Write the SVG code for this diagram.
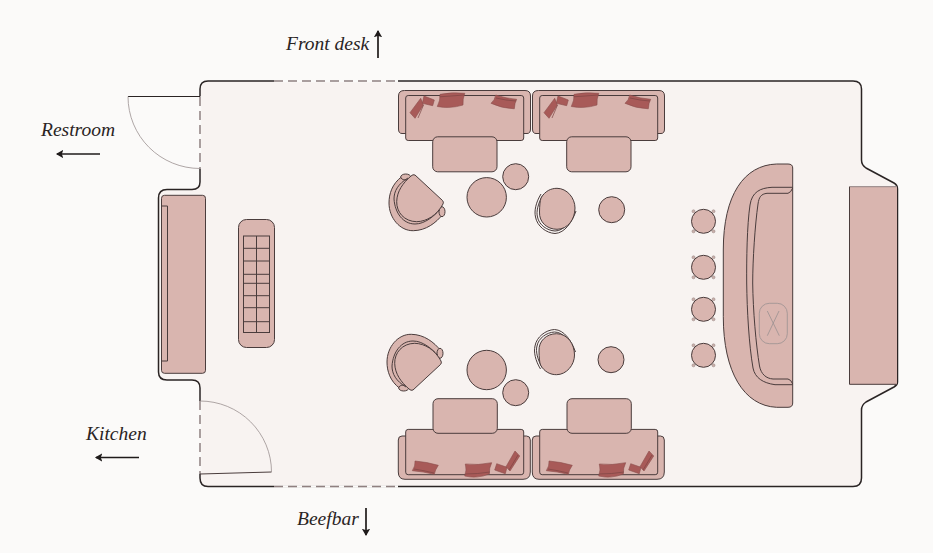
<svg xmlns="http://www.w3.org/2000/svg" width="933" height="553" viewBox="0 0 933 553">
<style>
.f{fill:#d9b5af;stroke:#4a3c3c;stroke-width:1}
.n{fill:none;stroke:#4a3c3c;stroke-width:1}
.c{fill:#a85a58;stroke:#8a4d4c;stroke-width:.6}
.w{fill:none;stroke:#2a2424;stroke-width:1.2}
.d{fill:none;stroke:#8f8080;stroke-width:1.5;stroke-dasharray:9 5}
.t{fill:none;stroke:#9a9090;stroke-width:.8}
.p{fill:#cbb0ab;stroke:#9a8a88;stroke-width:.6}
.g{fill:none;stroke:#7d4544;stroke-width:.7}
.l{font-family:"Liberation Serif",serif;font-style:italic;font-size:19.500px;fill:#2a2424}
.a{stroke:#1f1b1b;stroke-width:1.700;fill:none;marker-end:url(#h)}
</style>
<defs>
<marker id="h" viewBox="0 0 8 8" refX="6" refY="4" markerWidth="5" markerHeight="5" markerUnits="strokeWidth" orient="auto"><path d="M0,0 L7,4 L0,8 L1.500,4 Z" fill="#1f1b1b"/></marker>
<g id="topsofa">
<path class="f" d="M398.500,129V96Q398.500,90.500 404.500,90.500H525Q530.500,90.500 530.500,96V129Q530.500,133.500 527,133.500H402Q398.500,133.500 398.500,129Z"/>
<rect class="f" x="405.700" y="95.500" width="118" height="45" rx="2.500"/>
<rect class="f" x="432.700" y="136.800" width="64.300" height="35" rx="5"/>
<path class="c" d="M410,112.700L420.700,98.300L423.300,105L415,118.300Z"/>
<path class="c" d="M424,96L434.300,100L432.700,105.700L422.300,103.300Z"/>
<path class="c" d="M440,94.300Q452,92 464.800,93.300Q462.500,99 463,105Q450,109 437.300,106.500Q440.500,100 440,94.300Z"/>
<path class="c" d="M495.700,95Q506,98.500 516.700,99.300Q514.500,103 514.300,108.800Q502,108.500 491,103.300Q495,100 495.700,95Z"/>
<path class="g" d="M418,118L423.500,105M439.500,96.800Q452,96 464,95M496,98Q506,100.500 516,101"/>
</g>
<g id="botsofa">
<path class="f" d="M398.300,440Q398.300,436 402,436H526.500Q530.300,436 530.300,440V472Q530.300,479.300 523,479.300H405Q398.300,479.300 398.300,472Z"/>
<rect class="f" x="405.700" y="429.400" width="118" height="45.300" rx="2.500"/>
<rect class="f" x="433" y="398.700" width="64.300" height="34.600" rx="5"/>
<path class="c" d="M415,461Q427,462 438.300,465.300Q435,470 434.300,474.300Q423,471.500 412.300,470.700Q415.500,466 415,461Z"/>
<path class="c" d="M465.300,464Q478,465.500 491.700,462.700Q489,468 489.300,474Q477,479 464.700,476Q467,470 465.300,464Z"/>
<path class="c" d="M496.700,463.700L507,467.300L505.300,473.700L494.700,470Z"/>
<path class="c" d="M506,466.700L515,451L519.700,456L510,471Z"/>
<path class="g" d="M414,469Q424,470.500 434,473M465,474Q478,474 490,472M509,470L518,455"/>
</g>
<g id="arm">
<path class="f" d="M401.700,176.700C392,184 389,194 389,203C389,218 400,231 413.300,230.700C426,230.500 436,223 443,214L440,207L409,176Z"/>
<ellipse class="f" cx="405.700" cy="177" rx="5" ry="3"/>
<ellipse class="f" cx="442" cy="211.700" rx="3" ry="5"/>
<path class="n" d="M408,178C398,184 394,191 394,199C395,213 403,224 415,224C425,224 434,216 439.500,210"/>
<path class="f" d="M415,175L442.500,200.500Q444,202 443,204C437,215 427,221.500 416.700,221.700C404,221.500 396.500,212 396.700,201.700C397,191 403,183 411,176Q413,174 415,175Z"/>
</g>
<g id="chair">
<path class="n" d="M541,194C536,202 534,211 535.500,217C537,226 546,233 555,233.500C565,233 572,222 576,211"/>
<path class="n" d="M543,195C538,203 536,212 537.500,217C539,225 547,230.500 555,231C564,231 571,221 574.500,210.500"/>
<path class="f" d="M541,198C545,191 551,188.300 557,188.300C567,188.300 575,198 575,208C575,219 568,229.300 557,229.300C547,229.300 539,222 539.500,212C539.600,206 540,201 541,198Z"/>
</g>
<g id="stool">
<circle class="p" cx="-10" cy="-10" r="1.500"/><circle class="p" cx="10" cy="-10" r="1.500"/><circle class="p" cx="-10" cy="10" r="1.500"/><circle class="p" cx="10" cy="10" r="1.500"/>
<circle class="f" r="12"/>
</g>
</defs>
<rect width="933" height="553" fill="#fbfaf9"/>
<g id="room">
<path d="M208,81H853Q861.500,81 861.500,89V160Q861.500,165 866,168L894,183Q897.500,185 897.500,189V382Q897.500,385 894,387L866,402Q861.500,405 861.500,410V478Q861.500,486.500 853,486.500H208Q200,486.500 200,478V388Q200,380 192,380H167Q158.500,380 158.500,372V198Q158.500,189.500 167,189.500H192Q200,189.500 200,182V89Q200,81 208,81Z" fill="#f8f3f1" stroke="#2a2424" stroke-width="1.500"/>
<path d="M274,81H398M274,486.500H398M200,96.500V168.500M200,401V473.500" stroke="#fbfaf9" stroke-width="2.500" fill="none"/>
<path class="d" d="M274,81H398M274,486.500H398M200,97V168.500M200,401V473.500"/>
</g>
<g id="door-restroom">
<path class="w" d="M128,96.500H200"/>
<path class="t" d="M128,96.500A72,72 0 0 0 200,168.500"/>
</g>
<g id="door-kitchen">
<path d="M200,474L271.500,472" fill="none" stroke="#4a3c3c"/>
<path class="t" d="M200,401A71.500,71 0 0 1 271.500,472"/>
</g>
<g id="banquette-left">
<rect class="f" x="161.500" y="195.300" width="44" height="178" rx="3"/>
<path class="n" d="M162,206H167.500V361H162"/>
</g>
<g id="bench">
<rect class="f" x="238.500" y="219.500" width="36" height="128" rx="8"/>
<rect class="n" x="243.500" y="236" width="26" height="96.500"/>
<path class="n" stroke-width=".7" d="M256.500,236V332.500M243.500,248.300H269.500M243.500,261H269.500M243.500,274.300H269.500M243.500,283.300H269.500M243.500,295.700H269.500M243.500,307.700H269.500M243.500,321.700H269.500"/>
</g>
<g id="sofa-top-1"><use href="#topsofa"/></g>
<g id="sofa-top-2"><use href="#topsofa" x="134"/></g>
<g id="sofa-bottom-1"><use href="#botsofa"/></g>
<g id="sofa-bottom-2"><use href="#botsofa" x="134"/></g>
<g id="armchair-top"><use href="#arm"/></g>
<g id="armchair-bottom"><use href="#arm" transform="translate(-2,565) scale(1,-1)"/></g>
<g id="chair-top"><use href="#chair"/></g>
<g id="chair-bottom"><use href="#chair" transform="translate(-0.500,563) scale(1,-1)"/></g>
<g id="tables">
<circle class="f" cx="486.700" cy="197.300" r="19.700"/>
<circle class="f" cx="515.700" cy="176.700" r="13"/>
<circle class="f" cx="611.700" cy="209.700" r="13"/>
<circle class="f" cx="486.700" cy="370" r="19.700"/>
<circle class="f" cx="515.700" cy="392.700" r="13"/>
<circle class="f" cx="611" cy="359.700" r="13"/>
</g>
<g id="stools">
<use href="#stool" x="703.500" y="221.300"/>
<use href="#stool" x="703.500" y="267.300"/>
<use href="#stool" x="703.500" y="309.300"/>
<use href="#stool" x="703.500" y="355.300"/>
</g>
<g id="banquette-right">
<path class="f" d="M788,164H776.700C744,165 723.300,195 723.300,250V316.700C723.300,372 744,406 776.700,407.300H788Q792.700,407.300 792.700,403V168Q792.700,164 788,164Z"/>
<path class="n" d="M792.700,187.300H772C760,188 752,192 750,205C747,225 746.500,260 746.700,283C747,310 749,345 753,368C755,378 763,383 775,384.700H792.700"/>
<path class="n" d="M792.700,188Q791,192.500 788,193.300H767C761,194 759,197 758,204C755,225 752.700,260 752.700,283C753,310 756,345 759.500,366C761,374 766,378.500 773,379H788Q791,379.500 792.700,384"/>
<rect class="t" x="759.300" y="303.300" width="28" height="40.400" rx="10"/>
<path class="t" d="M767.300,311L779.300,335.700M779,311L767.300,335.700"/>
</g>
<g id="counter">
<rect x="849.500" y="186.700" width="47.500" height="197.600" fill="#d9b5af"/>
<path d="M849.500,186.700H897" stroke="#8f8080" fill="none"/>
<path d="M897,384.300H849.500V186.700" stroke="#4a3c3c" fill="none"/>
</g>
<g id="labels">
<text class="l" x="286" y="50">Front desk</text>
<text class="l" x="41" y="136">Restroom</text>
<text class="l" x="86" y="440">Kitchen</text>
<text class="l" x="297" y="525">Beefbar</text>
</g>
<g id="connectors">
<path class="a" d="M378,58V31"/>
<path class="a" d="M100,154H57"/>
<path class="a" d="M139,457.500H96"/>
<path class="a" d="M366,508V535"/>
</g>
</svg>
